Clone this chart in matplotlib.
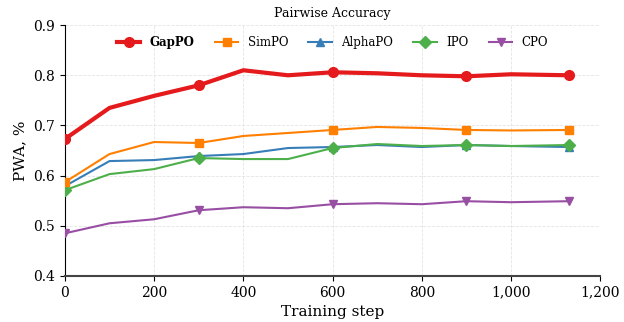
import matplotlib
matplotlib.use("Agg")
import matplotlib.pyplot as plt
from matplotlib.ticker import FuncFormatter

plt.rcParams['font.family'] = 'DejaVu Serif'

steps = [0, 100, 200, 300, 400, 500, 600, 700, 800, 900, 1000, 1130]
gappo = [0.673, 0.735, 0.759, 0.780, 0.810, 0.800, 0.806, 0.804, 0.800, 0.798, 0.802, 0.800]
simpo = [0.587, 0.643, 0.667, 0.665, 0.679, 0.685, 0.691, 0.697, 0.695, 0.691, 0.690, 0.691]
alphapo = [0.579, 0.629, 0.631, 0.639, 0.643, 0.655, 0.657, 0.661, 0.657, 0.661, 0.659, 0.657]
ipo = [0.571, 0.603, 0.613, 0.635, 0.633, 0.633, 0.655, 0.663, 0.659, 0.661, 0.659, 0.661]
cpo = [0.485, 0.505, 0.513, 0.531, 0.537, 0.535, 0.543, 0.545, 0.543, 0.549, 0.547, 0.549]

marker_idx = [0, 3, 6, 9, 11]

fig, ax = plt.subplots(figsize=(6.24, 3.22), dpi=100)
fig.subplots_adjust(left=0.104, right=0.962, top=0.922, bottom=0.143)

ax.plot(steps, gappo, color='#e41a1c', lw=3.0, marker='o', ms=7, markevery=marker_idx, label='GapPO', zorder=6)
ax.plot(steps, simpo, color='#ff7f00', lw=1.5, marker='s', ms=6, markevery=marker_idx, label='SimPO', zorder=5)
ax.plot(steps, alphapo, color='#377eb8', lw=1.5, marker='^', ms=6, markevery=marker_idx, label='AlphaPO', zorder=4)
ax.plot(steps, ipo, color='#4daf4a', lw=1.5, marker='D', ms=6, markevery=marker_idx, label='IPO', zorder=4)
ax.plot(steps, cpo, color='#984ea3', lw=1.5, marker='v', ms=6, markevery=marker_idx, label='CPO', zorder=3)

ax.set_xlim(0, 1200)
ax.set_ylim(0.4, 0.9)
ax.set_xticks(range(0, 1201, 200))
ax.xaxis.set_major_formatter(FuncFormatter(lambda v, p: f"{int(v):,}"))
ax.grid(True, ls='--', lw=0.6, color='#dddddd', alpha=0.8)
ax.spines['top'].set_visible(False)
ax.spines['right'].set_visible(False)
ax.spines['bottom'].set_color('#444444')
ax.spines['bottom'].set_linewidth(1.5)
ax.tick_params(labelsize=10)

ax.set_xlabel('Training step', fontsize=11)
ax.set_ylabel('PWA, %', fontsize=11)
ax.set_title('Pairwise Accuracy', fontsize=9)

leg = ax.legend(loc='upper center', ncol=5, frameon=False, fontsize=8.5,
                bbox_to_anchor=(0.5, 1.0), handlelength=2.0, columnspacing=1.7)
leg.get_texts()[0].set_fontweight('bold')

fig.savefig('out.png', dpi=100)
